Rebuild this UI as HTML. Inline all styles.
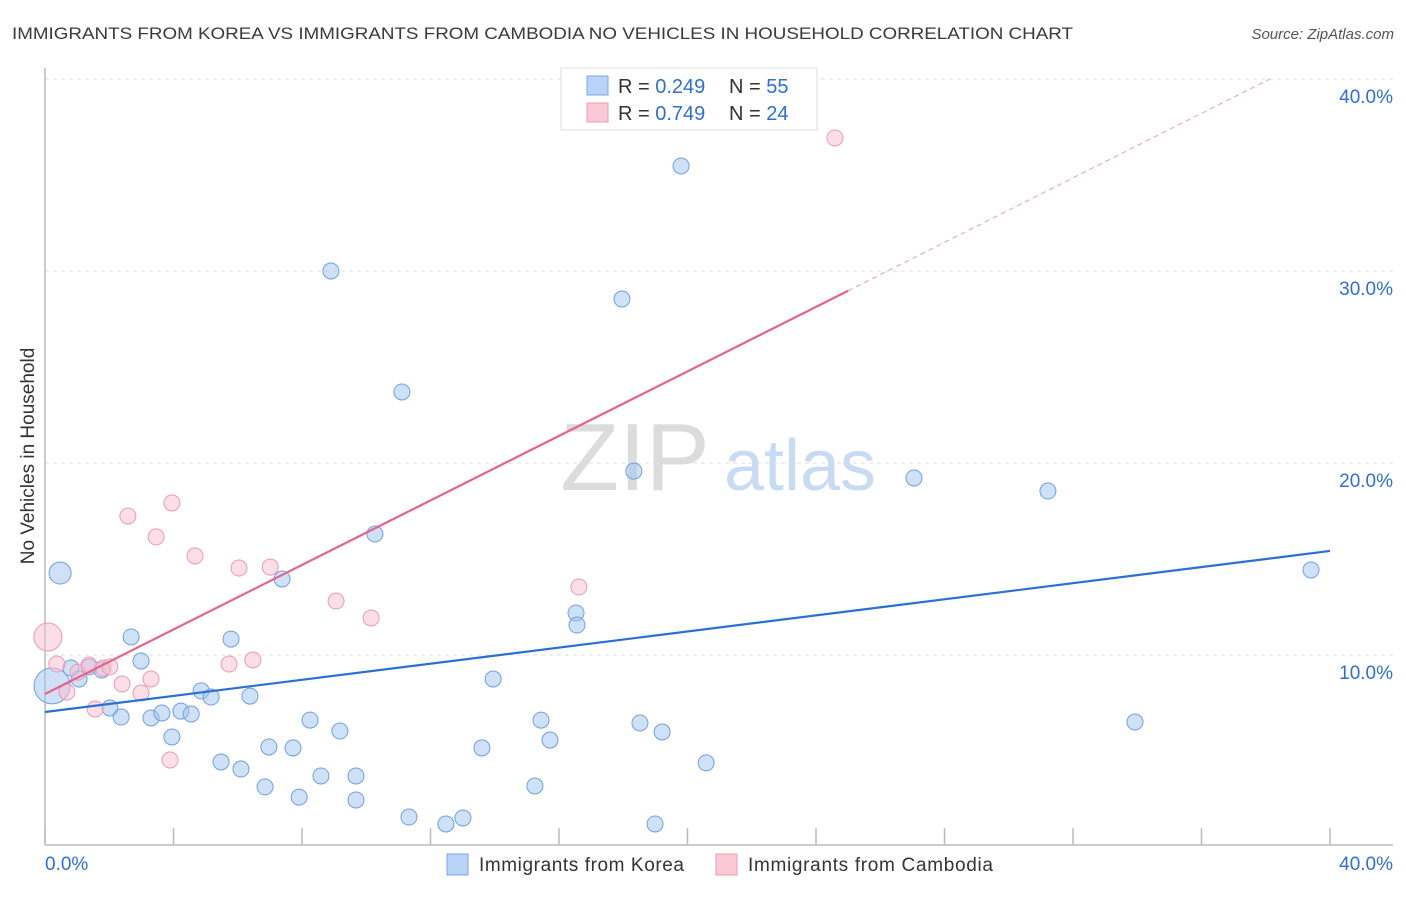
<!DOCTYPE html>
<html><head><meta charset="utf-8"><style>
body{margin:0;background:#fff;font-family:"Liberation Sans",sans-serif}
svg text{font-family:"Liberation Sans",sans-serif}
</style></head><body>
<svg id="chart" width="1406" height="892" xmlns="http://www.w3.org/2000/svg">
<text x="12" y="39" font-size="17" fill="#3a3a3a" textLength="1061" lengthAdjust="spacingAndGlyphs">IMMIGRANTS FROM KOREA VS IMMIGRANTS FROM CAMBODIA NO VEHICLES IN HOUSEHOLD CORRELATION CHART</text>
<text x="1394" y="39" font-size="15" fill="#555" font-style="italic" text-anchor="end">Source: ZipAtlas.com</text>
<g>
<text x="635" y="490" font-size="96" font-family="Liberation Serif,serif" fill="#dcdcdc" text-anchor="middle">ZIP</text>
<text x="800" y="490" font-size="72" fill="#c9dbf2" text-anchor="middle">atlas</text>
</g>
<g id="grid"></g>
<g id="axes"></g>
<g id="marks"></g>
<g>
<rect x="561" y="68" width="256" height="62" fill="#fff" stroke="#ddd"/>
<rect x="587" y="76" width="21" height="19" fill="#b8d3f5" stroke="#7aa8e6"/>
<rect x="587" y="103" width="21" height="19" fill="#fac8d6" stroke="#ee9ab2"/>
<text x="618" y="93" font-size="20" fill="#333">R = <tspan fill="#2f6fd0">0.249</tspan></text>
<text x="729" y="93" font-size="20" fill="#333">N = <tspan fill="#2f6fd0">55</tspan></text>
<text x="618" y="120" font-size="20" fill="#333">R = <tspan fill="#2f6fd0">0.749</tspan></text>
<text x="729" y="120" font-size="20" fill="#333">N = <tspan fill="#2f6fd0">24</tspan></text>
</g>
<g>
<rect x="447" y="854" width="21" height="21" fill="#b8d3f5" stroke="#7aa8e6"/>
<text x="479" y="871" font-size="19" fill="#333" textLength="205">Immigrants from Korea</text>
<rect x="716" y="854" width="21" height="21" fill="#fac8d6" stroke="#ee9ab2"/>
<text x="748" y="871" font-size="19" fill="#333" textLength="245">Immigrants from Cambodia</text>
</g>
<text transform="translate(34,456) rotate(-90)" font-size="19" fill="#333" text-anchor="middle">No Vehicles in Household</text>
</svg>
<script>
const koreaX=[0.47,0.22,0.81,1.06,1.37,1.77,2.02,2.37,2.68,2.99,3.30,3.64,3.95,4.23,4.55,4.86,5.17,5.48,5.79,6.10,6.38,6.85,6.97,7.38,7.72,7.91,8.25,8.59,8.90,9.18,9.68,9.68,10.27,11.11,11.33,12.48,13.01,13.60,13.95,15.25,15.44,15.72,16.53,16.56,17.96,18.33,18.52,18.99,19.21,19.80,20.58,27.05,31.22,33.93,39.41];
const koreaY=[14.27,8.39,9.32,8.75,9.38,9.22,7.24,6.77,10.94,9.69,6.72,6.98,5.73,7.08,6.93,8.13,7.81,4.43,10.83,4.06,7.86,3.13,5.21,13.96,5.16,2.60,6.61,3.70,30.0,6.04,3.70,2.45,16.30,23.70,1.56,1.20,1.51,5.16,8.75,3.18,6.61,5.57,12.19,11.56,28.54,19.58,6.46,1.20,5.99,35.47,4.38,19.22,18.54,6.51,14.43];
const koreaSize=[11,18,8,8,8,8,8,8,8,8,8,8,8,8,8,8,8,8,8,8,8,8,8,8,8,8,8,8,8,8,8,8,8,8,8,8,8,8,8,8,8,8,8,8,8,8,8,8,8,8,8,8,8,8,8];
const cambX=[0.09,0.37,0.68,1.03,1.37,1.56,1.81,2.02,2.40,2.58,2.99,3.30,3.46,3.89,3.95,4.67,5.73,6.04,6.47,7.01,9.06,10.15,16.62,24.59];
const cambY=[10.94,9.53,8.07,9.11,9.48,7.19,9.32,9.38,8.49,17.24,8.02,8.75,16.15,4.53,17.92,15.16,9.53,14.53,9.74,14.58,12.81,11.93,13.54,36.93];
const cambSize=[14,8,8,8,8,8,8,8,8,8,8,8,8,8,8,8,8,8,8,8,8,8,8,8];
const koreaTrend=[7.03,15.42];
const cambTrend=[7.97,0.84];
const yTicks=[10,20,30,40];
const yTickLabels=["10.0%","20.0%","30.0%","40.0%"];
const xTicks=[0,4,8,12,16,20,24,28,32,36,40];

const NS="http://www.w3.org/2000/svg";
const sx=v=>45+v*32.125;
const sy=v=>847-v*19.2;
function mk(tag,attrs,parent){const e=document.createElementNS(NS,tag);for(const k in attrs)e.setAttribute(k,attrs[k]);parent.appendChild(e);return e;}
const grid=document.getElementById('grid'),axes=document.getElementById('axes'),marks=document.getElementById('marks');
yTicks.forEach((t,i)=>{
 const l=mk('line',{x1:45,x2:1393,y1:sy(t),y2:sy(t),stroke:'#ddd','stroke-dasharray':'4,4'},grid);
 
 
 const tx=mk('text',{x:1393,y:sy(t)+24,'font-size':19,fill:'#2f6fd0','text-anchor':'end'},axes);
 tx.textContent=yTickLabels[i];
 
 
});
const ya=mk('line',{x1:45,x2:45,y1:68,y2:845,stroke:'#bbb','stroke-width':1.5},axes);


const xa=mk('line',{x1:45,x2:1393,y1:845,y2:845,stroke:'#bbb','stroke-width':1.5},axes);


xTicks.forEach(t=>{
 const l=mk('line',{x1:sx(t),x2:sx(t),y1:828,y2:845,stroke:'#bbb','stroke-width':1.5},axes);
 
 
});
const x0=mk('text',{x:45,y:870,'font-size':19,fill:'#2f6fd0'},axes);x0.textContent='0.0%';


const x1=mk('text',{x:1393,y:870,'font-size':19,fill:'#2f6fd0','text-anchor':'end'},axes);x1.textContent='40.0%';



koreaX.forEach((v,i)=>{
 const c=mk('circle',{cx:sx(v),cy:sy(koreaY[i]),r:koreaSize[i],fill:'rgba(160,196,240,0.5)',stroke:'#6fa0e0','stroke-width':1},marks);
 
 
});
cambX.forEach((v,i)=>{
 const c=mk('circle',{cx:sx(v),cy:sy(cambY[i]),r:cambSize[i],fill:'rgba(250,190,208,0.5)',stroke:'#ec9ab3','stroke-width':1},marks);
 
 
});
const kt=mk('line',{x1:sx(0),y1:sy(koreaTrend[0]),x2:sx(40),y2:sy(koreaTrend[1]),stroke:'#2a6fd6','stroke-width':2.2},marks);


const solidEnd=25, xMaxC=Math.min(40,(40-cambTrend[0])/cambTrend[1]);
const ct=mk('line',{x1:sx(0),y1:sy(cambTrend[0]),x2:sx(solidEnd),y2:sy(cambTrend[0]+cambTrend[1]*solidEnd),stroke:'#e5638c','stroke-width':2.2},marks);


const cd=mk('line',{x1:sx(solidEnd),y1:sy(cambTrend[0]+cambTrend[1]*solidEnd),x2:sx(xMaxC),y2:sy(cambTrend[0]+cambTrend[1]*xMaxC),stroke:'#eeaabd','stroke-width':1.2,'stroke-dasharray':'5,4'},marks);


</script>
</body></html>
